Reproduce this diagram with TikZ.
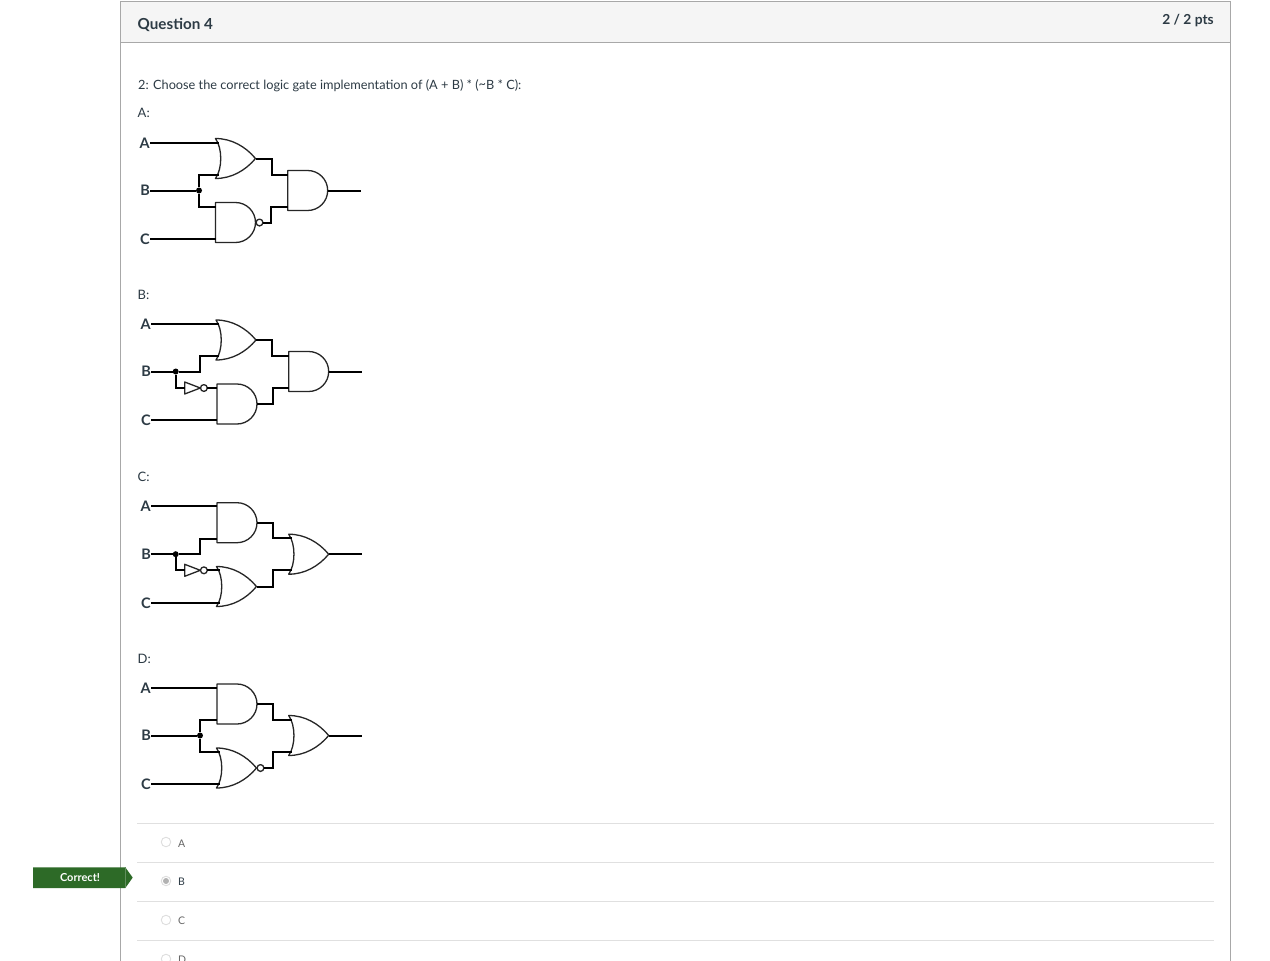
\documentclass[tikz,border=0pt]{standalone}
\usepackage{fontspec}
\setmainfont{Lato}
\definecolor{ink}{HTML}{2D3B45}
\definecolor{rule}{HTML}{A8A8A8}
\definecolor{sep}{HTML}{E0E0E0}
\definecolor{head}{HTML}{F5F5F5}
\definecolor{flag}{HTML}{2D6A27}
\tikzset{
  wire/.style={line width=2pt,black,line cap=butt,line join=miter},
  gateline/.style={line width=1.3pt,draw=black!85,fill=white,line join=round},
  junction/.style={circle,fill=black,inner sep=0pt,minimum size=6pt},
  sig/.style={font=\fontsize{14.5}{15}\selectfont\bfseries,text=ink,anchor=east,inner sep=0pt},
  txt/.style={anchor=base west,inner sep=0pt,text=ink,font=\fontsize{12.75}{15}\selectfont},
  optlabel/.style={anchor=base west,inner sep=0pt,text=black!60,font=\fontsize{10.5}{12}\selectfont},
  radio/.style={circle,draw=black!13,fill=white,line width=0.9pt,inner sep=0pt,minimum size=9.5pt},
  andgate/.pic={
    \path[gateline] (0,-20) -- (20,-20) .. controls (31,-20) and (40,-11) .. (40,0)
      .. controls (40,11) and (31,20) .. (20,20) -- (0,20) -- cycle;
    \coordinate (-in1) at (0,-16); \coordinate (-in2) at (0,16); \coordinate (-out) at (40,0);
  },
  orgate/.pic={
    \path[gateline] (0,-20) .. controls (16,-20) and (30,-12) .. (40,0)
      .. controls (30,12) and (16,20) .. (0,20) .. controls (7,10) and (7,-10) .. (0,-20) -- cycle;
    \coordinate (-in1) at (3,-16); \coordinate (-in2) at (3,16); \coordinate (-out) at (40,0);
  },
  nandgate/.pic={
    \path[gateline] (0,-20) -- (20,-20) .. controls (31,-20) and (40,-11) .. (40,0)
      .. controls (40,11) and (31,20) .. (20,20) -- (0,20) -- cycle;
    \path[gateline] (44,0) circle[radius=3.4pt];
    \coordinate (-in1) at (0,-16); \coordinate (-in2) at (0,16); \coordinate (-out) at (47.4,0);
  },
  norgate/.pic={
    \path[gateline] (0,-20) .. controls (16,-20) and (30,-12) .. (40,0)
      .. controls (30,12) and (16,20) .. (0,20) .. controls (7,10) and (7,-10) .. (0,-20) -- cycle;
    \path[gateline] (44,0) circle[radius=3.4pt];
    \coordinate (-in1) at (3,-16); \coordinate (-in2) at (3,16); \coordinate (-out) at (47.4,0);
  },
  invgate/.pic={
    \path[gateline] (0,-6) -- (15.6,0) -- (0,6) -- cycle;
    \path[gateline] (19.2,0) circle[radius=3.4pt];
    \coordinate (-in) at (0,0); \coordinate (-out) at (22.6,0);
  },
}
\begin{document}
\begin{tikzpicture}[x=1pt,y=-1pt]
\path[use as bounding box,clip] (0,0) rectangle (1270,961);
\fill[white] (0,0) rectangle (1270,961);
% panel
\path[fill=head] (120.5,1.5) rectangle (1230.5,42.5);
\draw[rule,line width=1pt] (120.5,970) -- (120.5,1.5) -- (1230.5,1.5) -- (1230.5,970);
\draw[rule,line width=1pt] (120.5,42.5) -- (1230.5,42.5);
\node[txt,font=\fontsize{15.2}{17}\selectfont\bfseries] (title) at (137.5,29) {Question 4};
\node[anchor=base east,inner sep=0pt,text=ink,font=\fontsize{13.8}{16}\selectfont\bfseries] (pts) at (1214,24) {2 / 2 pts};
\node[txt] (prompt) at (138,89) {2: Choose the correct logic gate implementation of (A + B) * ({\raisebox{0.1ex}{\textasciitilde}}B * C):};
\node[txt,font=\fontsize{13}{15}\selectfont] (capA) at (137.5,117) {A:};
\node[txt,font=\fontsize{13}{15}\selectfont] (capB) at (137.5,299) {B:};
\node[txt,font=\fontsize{13}{15}\selectfont] (capC) at (137.5,481) {C:};
\node[txt,font=\fontsize{13}{15}\selectfont] (capD) at (137.5,663) {D:};

% Diagram A
\node[sig] (a1) at (150,143.3) {A};
\node[sig] (a2) at (150,190.5) {B};
\node[sig] (a3) at (150,239) {C};
\pic (ga1) at (215.5,158.5) {orgate};
\pic (ga2) at (215.5,222.5) {nandgate};
\pic (ga3) at (287.7,190.5) {andgate};
\coordinate (aend) at (360.5,190.5);
\node[junction] (ad) at (199,190.5) {};
\draw[wire] (a1.east) -- (a1 -| ga1-in1);
\draw[wire] (a2.east) -- (ad);
\draw[wire] (a3.east) -- (a3 -| ga2-in2);
\draw[wire] (ad) |- (ga1-in2);
\draw[wire] (ad) |- (ga2-in1);
\draw[wire] (ga1-out) -- ++(16,0) |- (ga3-in1);
\draw[wire] (ga2-out) -- ++(8.5,0) |- (ga3-in2);
\draw[wire] (ga3-out) -- (aend);

% Diagram B
\node[sig] (b1) at (151,323.9) {A};
\node[sig] (b2) at (151,371.5) {B};
\node[sig] (b3) at (151,420.3) {C};
\pic (gb1) at (216,340) {orgate};
\pic (gb2) at (217,404) {andgate};
\pic (gb3) at (288.7,371.5) {andgate};
\pic (ib) at (184.7,388) {invgate};
\coordinate (bend) at (361.7,371.5);
\coordinate (bbend) at (200,371.5);
\node[junction] (bd) at (175.7,371.5) {};
\draw[wire] (b1.east) -- (b1 -| gb1-in1);
\draw[wire] (b2.east) -- (bd) -- (bbend) |- (gb1-in2);
\draw[wire] (b3.east) -- (b3 -| gb2-in2);
\draw[wire] (bd) |- (ib-in);
\draw[wire] (ib-out) -- (ib-out -| gb2-in1);
\draw[wire] (gb1-out) -- ++(16,0) |- (gb3-in1);
\draw[wire] (gb2-out) -- ++(15.5,0) |- (gb3-in2);
\draw[wire] (gb3-out) -- (bend);

% Diagram C
\node[sig] (c1) at (151,506.3) {A};
\node[sig] (c2) at (151,554.2) {B};
\node[sig] (c3) at (151,603) {C};
\pic (gc1) at (217,522.7) {andgate};
\pic (gc2) at (216.5,586.5) {orgate};
\pic (gc3) at (288.7,554.2) {orgate};
\pic (ic) at (184.7,570.3) {invgate};
\coordinate (cend) at (361.7,554.2);
\coordinate (cbend) at (200,554.2);
\node[junction] (cd) at (175.7,554.2) {};
\draw[wire] (c1.east) -- (c1 -| gc1-in1);
\draw[wire] (c2.east) -- (cd) -- (cbend) |- (gc1-in2);
\draw[wire] (c3.east) -- (c3 -| gc2-in2);
\draw[wire] (cd) |- (ic-in);
\draw[wire] (ic-out) -- (ic-out -| gc2-in1);
\draw[wire] (gc1-out) -- ++(15.7,0) |- (gc3-in1);
\draw[wire] (gc2-out) -- ++(16.2,0) |- (gc3-in2);
\draw[wire] (gc3-out) -- (cend);

% Diagram D
\node[sig] (d1) at (151,687.9) {A};
\node[sig] (d2) at (151,735.5) {B};
\node[sig] (d3) at (151,784.3) {C};
\pic (gd1) at (217,704) {andgate};
\pic (gd2) at (216.5,768) {norgate};
\pic (gd3) at (288.7,735.5) {orgate};
\coordinate (dend) at (361.7,735.5);
\node[junction] (dd) at (200,735.5) {};
\draw[wire] (d1.east) -- (d1 -| gd1-in1);
\draw[wire] (d2.east) -- (dd);
\draw[wire] (d3.east) -- (d3 -| gd2-in2);
\draw[wire] (dd) |- (gd1-in2);
\draw[wire] (dd) |- (gd2-in1);
\draw[wire] (gd1-out) -- ++(15.7,0) |- (gd3-in1);
\draw[wire] (gd2-out) -- ++(8.8,0) |- (gd3-in2);
\draw[wire] (gd3-out) -- (dend);

% Answer rows
\draw[sep,line width=1pt] (137,823.5) -- (1214,823.5);
\draw[sep,line width=1pt] (137,862.5) -- (1214,862.5);
\draw[sep,line width=1pt] (137,901.5) -- (1214,901.5);
\draw[sep,line width=1pt] (137,940.5) -- (1214,940.5);
\node[radio] (ra) at (166,842) {};
\node[radio] (rb) at (166,881) {};
\node[circle,fill=black!30,inner sep=0pt,minimum size=6pt] (rbdot) at (166,881) {};
\node[radio] (rc) at (166,920) {};
\node[radio] (rd) at (166,959) {};
\node[optlabel] (oa) at (178,847) {A};
\node[optlabel,text=ink] (ob) at (178,885) {B};
\node[optlabel] (oc) at (178,924) {C};
\node[optlabel] (od) at (178,963) {D};

% Correct flag
\path[fill=flag] (33,867.3) -- (125.3,867.3) -- (132.7,877.6) -- (125.3,888) -- (33,888) -- cycle;
\draw[flag!75!white,line width=0.6pt] (125.3,867.3) -- (125.3,888);
\node[inner sep=0pt,text=white,font=\fontsize{11}{12}\selectfont\bfseries] (ok) at (80,877.3) {Correct!};
\end{tikzpicture}
\end{document}
